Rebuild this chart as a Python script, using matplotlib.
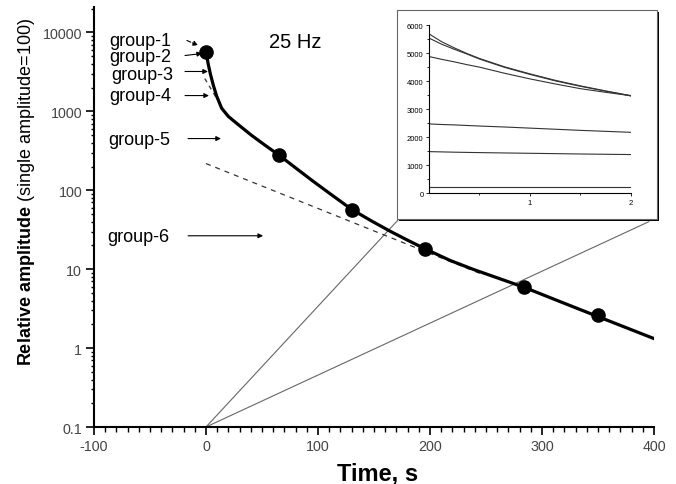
import matplotlib
matplotlib.use('Agg')
import matplotlib.pyplot as plt
from matplotlib.patches import Rectangle, ConnectionPatch
from matplotlib.ticker import FixedLocator, LogLocator, MultipleLocator, NullFormatter

plt.rcParams['font.family'] = ['Liberation Sans', 'DejaVu Sans']
plt.rcParams['axes.unicode_minus'] = False
plt.rcParams['mathtext.fontset'] = 'custom'
plt.rcParams['mathtext.rm'] = 'Liberation Sans'
plt.rcParams['mathtext.bf'] = 'Liberation Sans:bold'

# fitted decay curve
curve_t = [0, 2, 4, 6.5, 9.6, 14, 20, 29, 41, 53, 65, 81, 96, 111, 130, 148,
           164, 180, 196, 218, 239, 262, 284, 316, 349, 400]
curve_y = [5700, 3980, 2950, 2160, 1550, 1096, 861, 676, 493, 370, 280, 187.5,
           129, 90, 57.3, 40.7, 30.5, 23.3, 18.0, 12.9, 9.9, 7.6, 5.9, 3.89,
           2.54, 1.32]

# measured points
meas_t = [0, 65, 130, 196, 284, 350]
meas_y = [5700, 280, 57, 18, 6, 2.6]

# dashed components
slow_t = [0, 245]
slow_y = [218, 8.8]
fast_t = [-1, 18.5]
fast_y = [2600, 890]

yticks = [0.1, 1, 10, 100, 1000, 10000]
ytick_labels = ['0.1', '1', '10', '100', '1000', '10000']

# group labels: text anchor (t, y) and arrow start / end
groups = ['group-1', 'group-2', 'group-3', 'group-4', 'group-5', 'group-6']
group_text_t = [-86, -86, -85, -86, -87, -88]
group_text_y = [6900, 4325, 2606, 1383, 382, 22.5]
arrow_t0 = [-17, -18.7, -18.7, -18.7, -16, -16]
arrow_t1 = [-7, -3.5, 1.8, 2.7, 13.4, 51]
arrow_y0 = [7910, 5100, 3200, 1585, 452, 26.5]
arrow_y1 = [6840, 5410, 3200, 1585, 452, 26.5]

# inset (first 2 s)
inset_t = [0, 0.125, 0.25, 0.375, 0.5, 0.75, 1, 1.25, 1.5, 1.75, 2]
inset_a = [5700, 5420, 5200, 5000, 4820, 4520, 4270, 4040, 3840, 3660, 3490]
inset_b = [5550, 5330, 5150, 4980, 4800, 4500, 4250, 4020, 3825, 3650, 3480]
inset_c = [4890, 4790, 4700, 4600, 4510, 4290, 4090, 3910, 3740, 3610, 3490]
inset_d = [2480, 2460, 2445, 2425, 2405, 2370, 2330, 2290, 2250, 2215, 2180]
inset_e = [1490, 1480, 1470, 1462, 1455, 1442, 1430, 1418, 1405, 1395, 1385]
inset_f = [215, 215, 215, 215, 215, 215, 215, 215, 215, 215, 215]

fig = plt.figure(figsize=(6.76, 4.85), dpi=100)
ax = fig.add_axes([0.139, 0.1175, 0.8284, 0.866])

ax.plot(curve_t, curve_y, color='black', lw=2.3, zorder=4)
ax.plot(meas_t, meas_y, 'o', color='black', ms=9.5, zorder=5)
ax.plot(slow_t, slow_y, color='#333333', lw=0.9, dashes=(4, 4), zorder=3)
ax.plot(fast_t, fast_y, color='#444444', lw=1.0, dashes=(3, 3), zorder=3)

ax.set_yscale('log')
ax.set_xlim(-100, 400)
ax.set_ylim(0.1, 21000)
ax.spines['top'].set_visible(False)
ax.spines['right'].set_visible(False)
ax.spines['left'].set_linewidth(1.5)
ax.spines['bottom'].set_linewidth(1.5)

ax.yaxis.set_major_locator(FixedLocator(yticks))
ax.set_yticklabels(ytick_labels)
ax.yaxis.set_minor_locator(LogLocator(base=10, subs=range(2, 10)))
ax.yaxis.set_minor_formatter(NullFormatter())
ax.xaxis.set_major_locator(MultipleLocator(100))
ax.xaxis.set_minor_locator(MultipleLocator(10))
ax.tick_params(which='major', direction='out', length=6, width=1.2,
               labelsize=10.3, labelcolor='#444444', pad=2.5)
ax.tick_params(which='minor', direction='out', length=3.5, width=1.0)
ax.tick_params(axis='y', which='minor', length=2.5)

for name, tx, ty, t0, t1, y0, y1 in zip(groups, group_text_t, group_text_y,
                                        arrow_t0, arrow_t1, arrow_y0, arrow_y1):
    ax.text(tx, ty, name, fontsize=13, ha='left', va='baseline')
    ls = '--' if name == 'group-1' else '-'
    ax.annotate('', xy=(t1, y1), xytext=(t0, y0),
                arrowprops=dict(arrowstyle='-|>', color='black', lw=0.8,
                                linestyle=ls, mutation_scale=7,
                                shrinkA=0, shrinkB=0))

ax.text(56, 6590, '25 Hz', fontsize=14.5, ha='left', va='baseline')

fig.text(0.0454, 0.605, r'$\mathbf{Relative\ amplitude}$ (single amplitude=100)',
         rotation=90, rotation_mode='anchor', ha='center', va='baseline',
         fontsize=13)
fig.text(0.558, 0.0103, 'Time, s', fontsize=17, fontweight='bold',
         ha='center', va='baseline')

# inset frame with shadow
fx0, fy0, fx1, fy1 = 0.5873, 0.5464, 0.9719, 0.9773
fig.add_artist(Rectangle((fx0 + 0.003, fy0 - 0.005), fx1 - fx0, fy1 - fy0,
                         transform=fig.transFigure, facecolor='black',
                         edgecolor='none', zorder=2))
fig.add_artist(Rectangle((fx0, fy0), fx1 - fx0, fy1 - fy0,
                         transform=fig.transFigure, facecolor='white',
                         edgecolor='#666666', lw=0.8, zorder=2.1))

for fx, fy in [(0.5888, 0.5443), (0.960, 0.541)]:
    con = ConnectionPatch(xyA=(0, 0.1), coordsA=ax.transData,
                          xyB=(fx, fy), coordsB=fig.transFigure,
                          color='#666666', lw=0.8, zorder=1)
    con.set_clip_on(False)
    ax.add_artist(con)

ins = fig.add_axes([0.6346, 0.5994, 0.2988, 0.346])
ins.set_zorder(3)
for series in [inset_a, inset_b, inset_c, inset_d, inset_e, inset_f]:
    ins.plot(inset_t, series, color='#333333', lw=0.8)
ins.set_xlim(0, 2)
ins.set_ylim(0, 6000)
ins.spines['top'].set_visible(False)
ins.spines['right'].set_visible(False)
ins.spines['left'].set_linewidth(0.8)
ins.spines['bottom'].set_linewidth(0.8)
ins.xaxis.set_major_locator(FixedLocator([1, 2]))
ins.xaxis.set_minor_locator(FixedLocator([0.5, 1.5]))
ins.yaxis.set_major_locator(MultipleLocator(1000))
ins.yaxis.set_minor_locator(MultipleLocator(500))
ins.tick_params(which='major', direction='out', length=2.5, width=0.6,
                labelsize=5.5, pad=1.5)
ins.tick_params(which='minor', direction='out', length=1.5, width=0.6)

fig.savefig('out.png', dpi=100)
